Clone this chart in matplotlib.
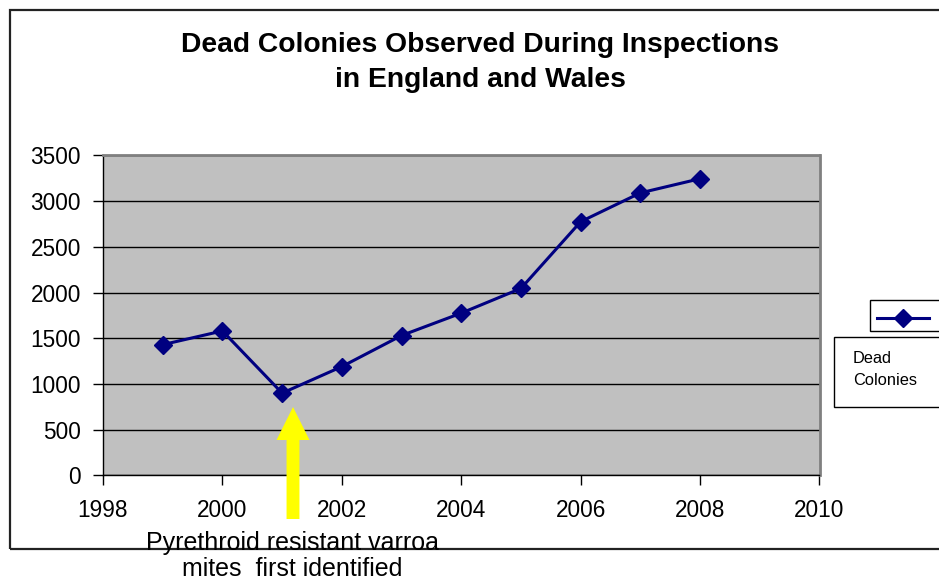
import matplotlib
matplotlib.use("Agg")
import matplotlib.pyplot as plt
from matplotlib.patches import Rectangle, FancyArrow
from matplotlib.lines import Line2D

# data
years = [1999, 2000, 2001, 2002, 2003, 2004, 2005, 2006, 2007, 2008]
dead_colonies = [1430, 1580, 900, 1190, 1530, 1775, 2045, 2775, 3090, 3245]
x_ticks = [1998, 2000, 2002, 2004, 2006, 2008, 2010]
y_ticks = [0, 500, 1000, 1500, 2000, 2500, 3000, 3500]

title = "Dead Colonies Observed During Inspections\nin England and Wales"
note = "Pyrethroid resistant varroa\nmites  first identified"
series_name = "Dead\nColonies"

plt.rcParams['font.family'] = ['Liberation Sans', 'DejaVu Sans']

W, H = 939, 582
fig = plt.figure(figsize=(W / 100, H / 100), dpi=100)

def fx(px):
    return px / W

def fy(py):
    return 1 - py / H

# outer chart border (runs off the right edge)
fig.patches.append(Rectangle((fx(9.5), fy(549)), fx(960 - 9.5), fy(10) - fy(549),
                             transform=fig.transFigure, fill=False,
                             edgecolor='#222222', linewidth=1.6))

ax = fig.add_axes([fx(103), fy(475.4), fx(819.5) - fx(103), fy(155.4) - fy(475.4)])
ax.set_facecolor('#C0C0C0')
ax.set_xlim(1998, 2010)
ax.set_ylim(0, 3500)
ax.set_xticks(x_ticks)
ax.set_yticks(y_ticks)
ax.yaxis.grid(True, color='black', linewidth=1)
ax.set_axisbelow(True)
ax.tick_params(direction='out', length=7, width=1, labelsize=16.3)
ax.tick_params(axis='y', pad=9)
ax.tick_params(axis='x', pad=10)
for s in ['top', 'right']:
    ax.spines[s].set_color('#808080')
    ax.spines[s].set_linewidth(2)
for s in ['left', 'bottom']:
    ax.spines[s].set_color('black')
    ax.spines[s].set_linewidth(1)

ax.plot(years, dead_colonies, color='#000080', linewidth=2.2,
        marker='D', markersize=9, markerfacecolor='#000080',
        markeredgecolor='#000080', clip_on=False)

fig.text(fx(480), fy(62.5), title, ha='center', va='center',
         fontsize=20.3, fontweight='bold', linespacing=1.42)

# yellow arrow pointing at 2001
fig.patches.append(FancyArrow(fx(293), fy(519), 0, fy(407) - fy(519),
                              width=fx(8) * W / H, head_width=fx(33),
                              head_length=fy(407) - fy(440),
                              length_includes_head=True,
                              transform=fig.transFigure,
                              color='#FFFF00', linewidth=0))
fig.text(fx(292), fy(556), note, ha='center', va='center',
         fontsize=18, linespacing=1.15)

# legend drawn as two boxes like the original
fig.patches.append(Rectangle((fx(870), fy(331)), fx(100), fy(300) - fy(331),
                             transform=fig.transFigure, fill=True, facecolor='white',
                             edgecolor='black', linewidth=1))
fig.lines.append(Line2D([fx(877), fx(929)], [fy(318), fy(318)],
                        transform=fig.transFigure, color='#000080', linewidth=2.2,
                        marker=None))
fig.lines.append(Line2D([fx(903)], [fy(318)], transform=fig.transFigure,
                        marker='D', markersize=9, color='#000080'))
fig.patches.append(Rectangle((fx(834), fy(407)), fx(130), fy(337) - fy(407),
                             transform=fig.transFigure, fill=True, facecolor='white',
                             edgecolor='black', linewidth=1))
fig.text(fx(853), fy(369.5), series_name, ha='left', va='center',
         fontsize=11.8, linespacing=1.55)

fig.savefig("out.png", dpi=100)
